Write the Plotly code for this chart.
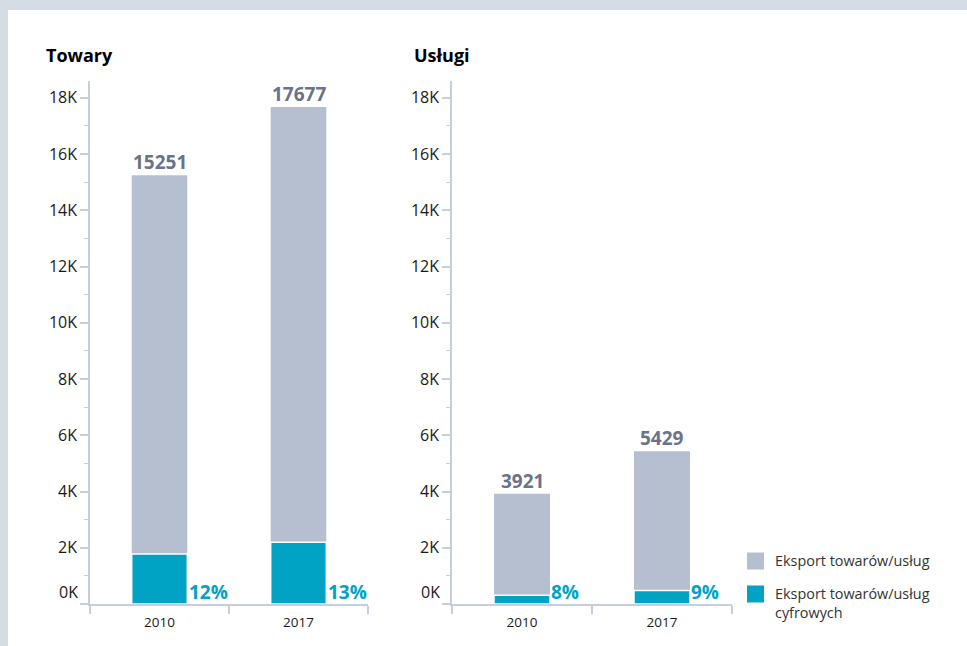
import plotly.graph_objects as go

years = ["2010", "2017"]
towary_total = [15251, 17677]
towary_digital = [1780, 2200]
towary_pct = ["12%", "13%"]
uslugi_total = [3921, 5429]
uslugi_digital = [310, 480]
uslugi_pct = ["8%", "9%"]
tick_vals = [0, 2000, 4000, 6000, 8000, 10000, 12000, 14000, 16000, 18000]
tick_text = ["0K", "2K", "4K", "6K", "8K", "10K", "12K", "14K", "16K", "18K"]
legend_labels = ["Eksport towarów/usług", "Eksport towarów/usług<br>cyfrowych"]
panel_titles = ["Towary", "Usługi"]

GRAY = "#b6bfd0"
TEAL = "#00a3c4"
LABEL_GRAY = "#6b7388"
AXIS = "#c6cedd"
FRAME = "#d5dce6"
TXT = "#1a1a1a"
FONT = "Open Sans"
W, H = 967, 646


def px(x):
    return x / W


def py(y):
    return (H - y) / H


fig = go.Figure()

panels = [
    ("x", "y", towary_total, towary_digital, towary_pct, 80),
    ("x2", "y2", uslugi_total, uslugi_digital, uslugi_pct, 442),
]
for xa, ya, tot, dig, pct, zero_x in panels:
    fig.add_trace(go.Bar(x=years, y=tot, xaxis=xa, yaxis=ya, marker_color=GRAY,
                         marker_line_width=0, showlegend=False, hoverinfo="skip"))
    fig.add_trace(go.Bar(x=years, y=dig, xaxis=xa, yaxis=ya, marker_color=TEAL,
                         marker_line=dict(color="white", width=1.5), showlegend=False,
                         hoverinfo="skip"))
    for i, (v, p) in enumerate(zip(tot, pct)):
        # category axis: annotation x given as category index
        fig.add_annotation(x=i, y=v, xref=xa, yref=ya, text="<b>" + str(v) + "</b>",
                           showarrow=False, xanchor="center", yanchor="bottom", yshift=-2,
                           font=dict(family=FONT, size=19, color=LABEL_GRAY))
        fig.add_annotation(x=i, y=0, xref=xa, yref=ya, text="<b>" + p + "</b>",
                           showarrow=False, xanchor="left", yanchor="bottom",
                           xshift=27, yshift=-3,
                           font=dict(family=FONT, size=19, color=TEAL))
    # lowest tick label sits raised above the axis line
    fig.add_annotation(x=px(zero_x), y=tick_vals[0], xref="paper", yref=ya,
                       text=tick_text[0], showarrow=False, xanchor="right", yanchor="middle",
                       yshift=12, font=dict(family=FONT, size=16, color=TXT))

ydom = [py(604), py(81)]
yaxis_common = dict(range=[0, 18600], domain=ydom, tickvals=tick_vals,
                    ticktext=[""] + tick_text[1:],
                    showgrid=False, zeroline=False, showline=True, linecolor=AXIS, linewidth=1.5,
                    ticks="outside", ticklen=8, tickcolor=AXIS, tickwidth=1.5,
                    tickfont=dict(family=FONT, size=16, color=TXT),
                    minor=dict(dtick=1000, ticks="outside", ticklen=4, tickcolor=AXIS, tickwidth=1),
                    automargin=False, fixedrange=True)
xaxis_common = dict(type="category", range=[-0.5, 1.5], showgrid=False, showline=True,
                    linecolor=AXIS, linewidth=1.5,
                    ticks="outside", ticklen=8, tickcolor=AXIS, tickwidth=1.5,
                    tickson="boundaries", tickangle=0, ticklabelstandoff=5,
                    tickfont=dict(family=FONT, size=13.5, color=TXT),
                    automargin=False, fixedrange=True)

fig.update_layout(
    width=W, height=H,
    margin=dict(l=0, r=0, t=0, b=0, autoexpand=False),
    paper_bgcolor=FRAME,
    plot_bgcolor="white",
    barmode="overlay",
    bargap=0.6,
    font=dict(family=FONT),
    xaxis=dict(domain=[px(90), px(368)], anchor="y", **xaxis_common),
    yaxis=dict(anchor="x", **yaxis_common),
    xaxis2=dict(domain=[px(452), px(732)], anchor="y2", **xaxis_common),
    yaxis2=dict(anchor="x2", **yaxis_common),
    shapes=[dict(type="rect", xref="paper", yref="paper", x0=px(8), x1=1.0,
                 y0=0, y1=py(10), fillcolor="white", line_width=0, layer="below")],
)

for t, xpx in zip(panel_titles, [44, 412]):
    fig.add_annotation(x=px(xpx), y=py(55), xref="paper", yref="paper",
                       text="<b>" + t + "</b>", showarrow=False, xanchor="left", yanchor="middle",
                       font=dict(family=FONT, size=18, color="#000000"))

for lab, col, ypx in zip(legend_labels, [GRAY, TEAL], [561, 594]):
    fig.add_shape(type="rect", xref="paper", yref="paper",
                  x0=px(747), x1=px(764), y0=py(ypx + 8.5), y1=py(ypx - 8.5),
                  fillcolor=col, line_width=0)
    fig.add_annotation(x=px(773), y=py(ypx - 12), xref="paper", yref="paper",
                       text=lab, showarrow=False, xanchor="left", yanchor="top",
                       align="left", font=dict(family=FONT, size=14.4, color="#333333"))

fig.write_html("out.html", config={"displayModeBar": False},
               post_script="document.body.style.margin='0';")
